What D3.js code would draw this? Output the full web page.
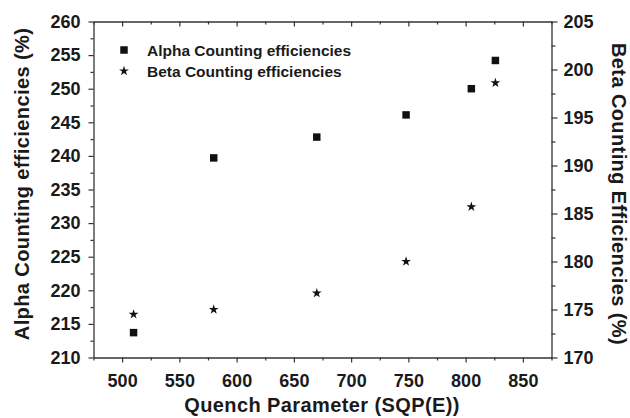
<!DOCTYPE html>
<html>
<head>
<meta charset="utf-8">
<script src="https://cdn.jsdelivr.net/npm/d3@7"></script>
<style>
  body { margin: 0; background: #fff; }
  text { font-family: "Liberation Sans", Arial, sans-serif; font-weight: bold; fill: #1a1a1a; }
</style>
</head>
<body>
<div id="chart"></div>
<script>
// Quench parameter vs alpha / beta counting efficiencies
const sqp = [510, 580, 670, 748, 805, 826];
const alphaEff = [213.7, 239.7, 242.8, 246.1, 250.0, 254.2];
const betaEff = [174.5, 175.0, 176.7, 180.0, 185.7, 198.6];
const xTicks = [500, 550, 600, 650, 700, 750, 800, 850];
const leftTicks = [210, 215, 220, 225, 230, 235, 240, 245, 250, 255, 260];
const rightTicks = [170, 175, 180, 185, 190, 195, 200, 205];
const legendLabels = ["Alpha Counting efficiencies", "Beta Counting efficiencies"];

const width = 630, height = 418;
const margin = {left: 93.5, right: 78.5, top: 21.5, bottom: 60.5};
const iw = width - margin.left - margin.right;
const ih = height - margin.top - margin.bottom;

const svg = d3.select("#chart").append("svg")
  .attr("width", width).attr("height", height);
const g = svg.append("g").attr("transform", `translate(${margin.left},${margin.top})`);

const x = d3.scaleLinear().domain([475, 875]).range([0, iw]);
const yL = d3.scaleLinear().domain([210, 260]).range([ih, 0]);
const yR = d3.scaleLinear().domain([170, 205]).range([ih, 0]);

const minorX = d3.range(475, 876, 25).filter(v => v % 50 !== 0);
const minorL = d3.range(212.5, 260, 5);
const minorR = d3.range(172.5, 205, 5);

function styleAxis(sel, size) {
  sel.select(".domain").attr("stroke", "#333").attr("stroke-width", 1.3);
  sel.selectAll(".tick line").attr("stroke", "#333").attr("stroke-width", 1.2);
  sel.selectAll(".tick text").style("font-size", size + "px");
}
function minorStyle(s) {
  s.select(".domain").remove();
  s.selectAll("line").attr("stroke", "#333").attr("stroke-width", 1.2);
}

// bottom axis
const xb = g.append("g").attr("transform", `translate(0,${ih})`)
  .call(d3.axisBottom(x).tickValues(xTicks).tickSize(5).tickPadding(12).tickSizeOuter(0));
styleAxis(xb, 18);
g.append("g").attr("transform", `translate(0,${ih})`)
  .call(d3.axisBottom(x).tickValues(minorX).tickSize(3).tickFormat("").tickSizeOuter(0))
  .call(minorStyle);

// top axis (mirror, inward ticks)
const xt = g.append("g")
  .call(d3.axisBottom(x).tickValues(xTicks).tickSize(5).tickFormat("").tickSizeOuter(0));
styleAxis(xt, 18);
g.append("g")
  .call(d3.axisBottom(x).tickValues(minorX).tickSize(3).tickFormat("").tickSizeOuter(0))
  .call(minorStyle);

// left axis
const yl = g.append("g")
  .call(d3.axisLeft(yL).tickValues(leftTicks).tickSize(5).tickPadding(8).tickSizeOuter(0));
styleAxis(yl, 18);
g.append("g")
  .call(d3.axisLeft(yL).tickValues(minorL).tickSize(3).tickFormat("").tickSizeOuter(0))
  .call(minorStyle);

// right axis
const yr = g.append("g").attr("transform", `translate(${iw},0)`)
  .call(d3.axisRight(yR).tickValues(rightTicks).tickSize(6).tickPadding(6).tickSizeOuter(0));
styleAxis(yr, 18);
g.append("g").attr("transform", `translate(${iw},0)`)
  .call(d3.axisRight(yR).tickValues(minorR).tickSize(4).tickFormat("").tickSizeOuter(0))
  .call(minorStyle);

g.selectAll(".tick text").attr("fill", "#1a1a1a").style("font-family", '"Liberation Sans", Arial, sans-serif');

// data
const square = d3.symbol().type(d3.symbolSquare).size(56);
const star = d3.symbol().type(d3.symbolStar).size(30);

g.selectAll("path.alpha")
  .data(sqp.map((v, i) => [v, alphaEff[i]]))
  .join("path").attr("class", "alpha")
  .attr("d", square)
  .attr("transform", d => `translate(${x(d[0])},${yL(d[1])})`)
  .attr("fill", "#111");

g.selectAll("path.beta")
  .data(sqp.map((v, i) => [v, betaEff[i]]))
  .join("path").attr("class", "beta")
  .attr("d", star)
  .attr("transform", d => `translate(${x(d[0])},${yR(d[1])})`)
  .attr("fill", "#111");

// legend
const legend = g.append("g").attr("transform", "translate(30.5,28.5)");
legendLabels.forEach((lab, i) => {
  const row = legend.append("g").attr("transform", `translate(0,${i * 21})`);
  row.append("path").attr("d", i === 0 ? square : star).attr("fill", "#111");
  row.append("text").attr("x", 23).attr("y", 6).style("font-size", "15.5px").text(lab);
});

// axis titles
svg.append("text")
  .attr("x", 322).attr("y", 412)
  .attr("text-anchor", "middle").style("font-size", "20px").style("letter-spacing", "0.4px")
  .text("Quench Parameter (SQP(E))");

svg.append("text")
  .attr("transform", `translate(28.5,184) rotate(-90)`)
  .attr("text-anchor", "middle").style("font-size", "20px").style("letter-spacing", "0.4px")
  .text("Alpha Counting efficiencies (%)");

svg.append("text")
  .attr("transform", `translate(611.5,194) rotate(90)`)
  .attr("text-anchor", "middle").style("font-size", "20px").style("letter-spacing", "0.4px")
  .text("Beta Counting Efficiencies (%)");
</script>
</body>
</html>
